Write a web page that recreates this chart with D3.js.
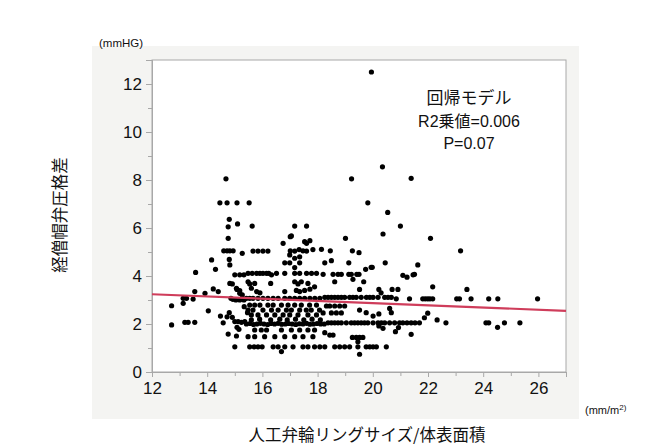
<!DOCTYPE html>
<html>
<head>
<meta charset="utf-8">
<script src="https://cdn.jsdelivr.net/npm/d3@7/dist/d3.min.js"></script>
<style>
body { margin: 0; background: #fff; }
text { font-family: "Liberation Sans", Arial, "Noto Sans CJK JP", sans-serif; }
</style>
</head>
<body>
<div id="chart"></div>
<script>
var xTicks = [12, 14, 16, 18, 20, 22, 24, 26];
var xMinor = [13, 15, 17, 19, 21, 23, 25, 27];
var yTicks = [0, 2, 4, 6, 8, 10, 12];
var yMinor = [1, 3, 5, 7, 9, 11, 13];
var fitX = [12, 27];
var fitY = [3.24, 2.55];
var statLines = ["回帰モデル", "R2乗値=0.006", "P=0.07"];

// points, [ring size / BSA, gradient]
var leftPts = [
	[12.71,2.76],[12.71,1.96],[13.13,3.07],[13.25,3.07],[13.13,2.86],[13.49,3.04],[13.19,2.07],[13.31,2.07],
	[13.55,2.07],[13.58,4.15],[13.55,3.35],[13.92,3.28],[14.04,2.55],[14.16,4.67],[14.22,3.46],[14.3,4.28],
	[14.4,3.35],[14.48,2.33],[14.58,2.05],[14.46,7.05],[14.72,7.05],[14.8,6.36],[14.76,6.05],[14.76,5.57],
	[14.6,5.05],[14.72,5.05],[14.82,5.05],[14.94,5.05],[14.8,4.69],[14.82,4.46],[14.82,3.69],[14.91,3.67],
	[14.86,3.07],[14.93,3.03],[14.8,2.47],[14.72,2.3],[14.91,2.28],[14.76,1.58],[15.06,1.5],[15.0,1.05],
	[15.08,1.86],[15.15,1.78],[15.0,2.1],[15.12,2.1],[15.24,2.07],[15.36,2.1],[15.08,3.44],[15.18,3.28],
	[15.27,3.21],[15.04,3.0],[15.18,3.0],[15.33,3.0],[15.34,2.72],[15.1,6.17],[15.08,7.05],[15.27,4.94],
	[15.0,4.05],[15.18,4.05],[15.33,4.05],[15.06,3.49],[15.18,3.39],[15.46,2.47]
];

var midPts = [
	[15.52,7.05],[15.63,6.08],[17.17,6.08],[17.6,6.08],[17.01,5.64],[17.72,5.47],[17.6,5.36],[16.75,5.36],[17.53,5.43],
	[15.66,5.04],[15.84,5.04],[16.02,5.04],[16.2,5.04],[17.01,5.05],[17.17,5.04],[17.33,5.1],[17.47,5.05],[17.6,5.04],
	[17.83,5.1],[16.99,4.88],[17.35,4.8],[17.17,4.74],[16.81,4.55],[16.99,4.55],[17.35,4.55],[17.17,4.35],
	[15.48,4.11],[15.63,4.11],[15.79,4.11],[15.91,4.11],[16.02,4.11],[16.15,4.11],[16.23,4.11],[16.33,4.05],
	[16.51,4.11],[16.81,4.11],[17.17,4.11],[17.35,4.11],[17.6,4.11],[17.78,4.11],[17.96,4.11],
	[15.48,3.76],[15.72,3.69],[16.3,3.69],[17.17,3.76],[17.29,3.67],[17.41,3.76],[17.65,3.69],[17.89,3.55],
	[15.54,3.67],[15.6,3.49],[15.79,3.35],[15.91,3.3],[16.81,3.35],[17.23,3.4],[17.35,3.35],[17.53,3.4],[17.72,3.45],
	[15.42,3.07],[15.54,3.07],[15.66,3.07],[15.84,3.07],[16.02,3.07],[16.2,3.07],[16.39,3.07],[16.57,3.07],
	[16.81,3.07],[16.99,3.07],[17.17,3.07],[17.35,3.07],[17.53,3.07],[17.72,3.07],[17.9,3.07],[18.08,3.07],
	[15.54,2.79],[15.72,2.79],[15.91,2.79],[16.2,2.79],[16.39,2.79],[16.69,2.79],[16.93,2.79],[17.17,2.79],
	[17.41,2.79],[17.71,2.79],[17.96,2.79],
	[15.48,2.58],[15.66,2.58],[16.02,2.58],[16.33,2.58],[16.57,2.58],[16.87,2.58],[17.05,2.58],[17.35,2.58],
	[17.59,2.58],[17.77,2.58],[18.07,2.58],
	[15.6,2.38],[15.84,2.38],[16.15,2.38],[16.45,2.38],[16.75,2.38],[16.99,2.38],[17.29,2.38],[17.65,2.38],[17.96,2.38],
	[15.6,2.17],[15.9,2.2],[16.3,2.17],[16.63,2.2],[16.9,2.17],[17.2,2.2],[17.5,2.17],[17.8,2.2],[18.1,2.17],
	[15.42,2.0],[15.55,2.02],[15.68,1.98],[15.8,2.0],[15.93,2.03],[16.06,2.0],[16.19,1.98],[16.31,2.02],
	[16.44,2.0],[16.57,2.03],[16.7,1.99],[16.83,2.0],[16.95,2.02],[17.08,2.0],[17.21,1.98],[17.34,2.01],
	[17.47,2.0],[17.6,2.03],[17.72,1.99],[17.85,2.0],[17.98,2.02],[18.11,2.0],[18.24,2.0],
	[15.72,1.75],[15.96,1.75],[16.15,1.75],[16.69,1.75],[17.05,1.75],[17.35,1.75],[17.65,1.75],[17.89,1.75],
	[15.48,1.47],[15.72,1.47],[16.08,1.47],[16.45,1.47],[16.81,1.47],[17.17,1.47],[17.47,1.47],[17.83,1.47],
	[15.54,1.05],[15.7,1.05],[15.84,1.05],[15.99,1.05],[16.39,1.05],[16.57,1.05],[16.81,1.05],[17.11,1.05],
	[17.47,1.05],[17.65,1.05],[17.89,1.05],[18.08,1.05],[16.69,0.85],[17.05,5.67]
];

var midRightPts = [
	[18.14,5.11],[18.46,5.05],[19.26,5.05],[19.5,4.97],[19.01,5.57],[20.37,5.75],
	[18.26,4.55],[18.5,4.64],[19.13,4.55],[20.45,4.55],[19.98,4.36],[19.74,4.28],
	[18.2,4.07],[18.56,4.07],[18.74,4.07],[18.86,4.07],[19.13,4.07],[19.22,4.07],[19.42,4.07],[19.5,4.07],
	[18.62,3.76],[19.28,3.86],[19.67,3.76],[19.52,3.44],[20.22,3.44],[20.3,3.3],[20.7,3.44],[20.91,3.44],
	[18.26,3.11],[18.38,3.11],[18.5,3.11],[18.62,3.11],[18.74,3.11],[18.86,3.11],[18.98,3.11],[19.16,3.11],
	[19.28,3.11],[19.4,3.11],[19.58,3.11],[19.77,3.11],[19.89,3.11],[20.01,3.11],[20.19,3.11],[20.43,3.11],
	[20.55,3.11],[20.67,3.11],[20.85,3.05],
	[18.32,2.75],[18.44,2.75],[18.62,2.75],[18.8,2.75],[18.98,2.75],
	[18.2,2.46],[18.5,2.46],[18.68,2.46],[18.86,2.46],
	[19.52,2.58],[19.76,2.47],[20.61,2.65],[20.67,2.47],[20.22,2.42],[20.01,2.33],
	[18.38,2.05],[18.5,2.05],[18.62,2.05],[18.74,2.05],[18.86,2.05],[19.04,2.05],[19.22,2.05],[19.34,2.05],
	[19.46,2.05],[19.58,2.05],[19.7,2.05],[19.82,2.05],[20.01,2.05],[20.19,2.05],[20.31,2.05],[20.43,2.05],
	[20.61,2.05],[20.79,2.05],
	[20.22,1.92],[20.37,1.82],[20.82,1.68],[18.26,1.64],[18.44,1.54],[18.56,1.54],
	[19.26,1.44],[19.4,1.44],[19.52,1.44],[19.64,1.44],[19.46,1.26],
	[18.26,1.05],[18.62,1.05],[18.8,1.05],[18.98,1.05],[19.16,1.05],[19.46,1.05],[19.76,1.05],[19.89,1.05],
	[20.01,1.05],[20.13,1.05],[20.49,1.05],[19.52,0.74],
	[19.82,7.05],[20.54,6.65],[19.94,4.36]
];

var rightPts = [
	[21.39,8.07],[21.0,6.08],[22.09,5.57],[23.18,5.05],[21.63,4.46],[21.09,4.03],[21.24,3.95],[21.46,4.05],
	[21.51,4.07],[22.17,3.55],[23.41,3.44],
	[21.33,3.05],[21.81,3.05],[21.9,3.05],[21.99,3.05],[22.07,3.05],[22.17,3.05],[23.04,3.05],[23.14,3.05],
	[23.56,3.05],[24.2,3.05],[24.53,3.05],[25.97,3.05],
	[21.87,2.26],[21.99,2.45],[22.33,2.17],[22.65,2.05],
	[20.97,2.05],[21.09,2.05],[21.24,2.05],[21.39,2.05],[21.53,2.05],[21.69,2.05],
	[24.1,2.05],[24.2,2.05],[24.52,1.86],[24.77,2.05],[25.33,2.05],[21.39,1.57],[20.93,1.85]
];

var outlierPts = [[19.95,12.5],[20.35,8.55],[19.23,8.05],[14.68,8.05]];

function init() {
	var w = 672, h = 448;
	var left = 152, right = 566, top = 60, bottom = 372;

	var svg = d3.select("#chart").append("svg")
		.attr("width", w)
		.attr("height", h);

	// grey panel behind the plot
	svg.append("rect")
		.attr("x", 92).attr("y", 46)
		.attr("width", 487).attr("height", 373)
		.attr("fill", "#f4f4f2");

	var xScale = d3.scaleLinear().domain([12, 27]).range([left, right]);
	var yScale = d3.scaleLinear().domain([0, 13]).range([bottom, top]);

	svg.append("rect")
		.attr("x", left).attr("y", top)
		.attr("width", right - left).attr("height", bottom - top)
		.attr("fill", "#fff")
		.attr("stroke", "#a8a8a8")
		.attr("stroke-width", 1);

	var xAxis = d3.axisBottom(xScale).tickValues(xTicks).tickSize(5).tickPadding(5).tickFormat(d3.format("d"));
	var xAxisMinor = d3.axisBottom(xScale).tickValues(xMinor).tickSize(4).tickFormat("");
	var yAxis = d3.axisLeft(yScale).tickValues(yTicks).tickSize(6).tickPadding(4).tickFormat(d3.format("d"));
	var yAxisMinor = d3.axisLeft(yScale).tickValues(yMinor).tickSize(4).tickFormat("");

	[xAxis, xAxisMinor].forEach(function(ax) {
		svg.append("g").attr("transform", "translate(0," + bottom + ")").call(ax);
	});
	[yAxis, yAxisMinor].forEach(function(ax) {
		svg.append("g").attr("transform", "translate(" + left + ",0)").call(ax);
	});
	svg.selectAll(".domain").attr("stroke", "#a8a8a8");
	svg.selectAll(".tick line").attr("stroke", "#a8a8a8");
	svg.selectAll(".tick text")
		.attr("fill", "#111")
		.style("font-size", "17px")
		.style("font-family", "'Liberation Sans', Arial, sans-serif");

	var allPts = leftPts.concat(midPts, midRightPts, rightPts, outlierPts);
	svg.append("g").selectAll("circle")
		.data(allPts)
		.enter()
		.append("circle")
		.attr("cx", function(d) { return xScale(d[0]); })
		.attr("cy", function(d) { return yScale(d[1]); })
		.attr("r", 2.6)
		.attr("fill", "#000");

	var line = d3.line()
		.x(function(d) { return xScale(d[0]); })
		.y(function(d) { return yScale(d[1]); });
	svg.append("path")
		.datum(d3.zip(fitX, fitY))
		.attr("d", line)
		.attr("fill", "none")
		.attr("stroke", "#cf3d5b")
		.attr("stroke-width", 2.2);

	svg.selectAll(".stat")
		.data(statLines)
		.enter()
		.append("text")
		.attr("class", "stat")
		.attr("x", 469)
		.attr("y", function(d, i) { return 104 + i * 22.5; })
		.attr("text-anchor", "middle")
		.style("font-size", function(d, i) { return i == 0 ? "17px" : "16px"; })
		.attr("fill", "#111")
		.text(function(d) { return d; });

	svg.append("text")
		.attr("x", 99).attr("y", 47)
		.style("font-size", "11.5px")
		.attr("fill", "#111")
		.text("(mmHG)");

	var unit = svg.append("text")
		.attr("x", 585).attr("y", 414)
		.style("font-size", "11px")
		.attr("fill", "#111");
	unit.append("tspan").text("(mm/m");
	unit.append("tspan").attr("dy", -4).style("font-size", "8px").text("2)");

	svg.append("text")
		.attr("x", 367).attr("y", 441)
		.attr("text-anchor", "middle")
		.style("font-size", "16.5px")
		.style("font-family", "'Noto Sans CJK JP', sans-serif")
		.attr("fill", "#111")
		.text("人工弁輪リングサイズ/体表面積");

	svg.append("text")
		.attr("transform", "translate(66,215) rotate(-90)")
		.attr("text-anchor", "middle")
		.style("font-size", "16.5px")
		.style("font-family", "'Noto Sans CJK JP', sans-serif")
		.attr("fill", "#111")
		.text("経僧帽弁圧格差");
}

window.onload = init;
</script>
</body>
</html>
